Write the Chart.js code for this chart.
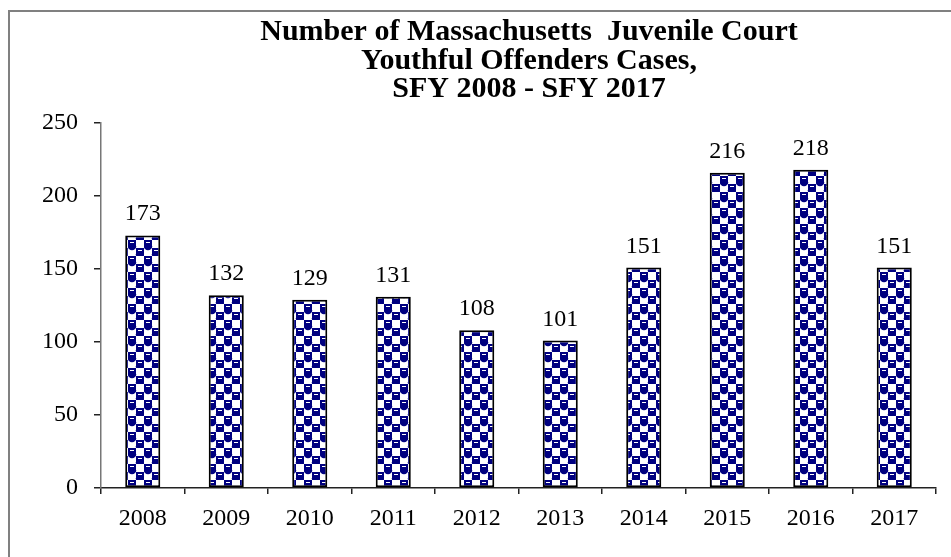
<!DOCTYPE html>
<html>
<head>
<meta charset="utf-8">
<script src="https://cdn.jsdelivr.net/npm/chart.js@4.4.1/dist/chart.umd.min.js"></script>
<style>
  html, body { margin: 0; padding: 0; background: #fff; overflow: hidden; }
  #wrap { position: relative; width: 951px; height: 557px; }
  #frame { position: absolute; left: 8px; top: 10px; width: 960px; height: 600px; border: 2px solid #808080; box-sizing: border-box; }
  #myChart { position: absolute; left: 0; top: 0; }
</style>
</head>
<body>
<div id="wrap">
  <div id="frame"></div>
  <canvas id="myChart" width="951" height="557"></canvas>
</div>
<script>
const years = ['2008', '2009', '2010', '2011', '2012', '2013', '2014', '2015', '2016', '2017'];
const cases = [173, 132, 129, 131, 108, 101, 151, 216, 218, 151];
const yTicks = [0, 50, 100, 150, 200, 250];
const titleLines = ['Number of Massachusetts  Juvenile Court', 'Youthful Offenders Cases,', 'SFY 2008 - SFY 2017'];

const serif = "'Liberation Serif', 'Times New Roman', serif";

// navy/white checker fill like the original bars
function makePattern(ctx) {
    const c = document.createElement('canvas');
    c.width = 16;
    c.height = 16;
    const g = c.getContext('2d');
    g.fillStyle = '#fff';
    g.fillRect(0, 0, 16, 16);
    g.fillStyle = '#000080';
    [[0, 0], [8, 8]].forEach(([x, y]) => {
        g.fillRect(x, y, 8, 7);
        g.beginPath();
        g.arc(x + 4, y + 6, 4.3, 0, Math.PI);
        g.fill();
    });
    g.fillStyle = '#fff';
    g.fillRect(2, 2, 4, 1);
    g.fillRect(10, 10, 4, 1);
    return ctx.createPattern(c, 'repeat');
}

const valueLabels = {
    id: 'valueLabels',
    afterDatasetsDraw(chart) {
        const ctx = chart.ctx;
        ctx.save();
        ctx.font = '24px ' + serif;
        ctx.fillStyle = '#000';
        ctx.textAlign = 'center';
        ctx.textBaseline = 'alphabetic';
        chart.getDatasetMeta(0).data.forEach((bar, i) => {
            ctx.fillText(cases[i], bar.x, bar.y - 15);
        });
        ctx.restore();
    }
};

const titleText = {
    id: 'titleText',
    afterDraw(chart) {
        const ctx = chart.ctx;
        ctx.save();
        ctx.font = 'bold 30px ' + serif;
        ctx.fillStyle = '#000';
        ctx.textAlign = 'center';
        ctx.textBaseline = 'alphabetic';
        titleLines.forEach((t, i) => {
            ctx.fillText(t, 529, 40 + i * 28.5);
        });
        ctx.restore();
    }
};

const ctx = document.getElementById('myChart').getContext('2d');

new Chart(ctx, {
    type: 'bar',
    data: {
        labels: years,
        datasets: [{
            data: cases,
            backgroundColor: makePattern(ctx),
            borderColor: '#000',
            borderWidth: 2,
            borderSkipped: false,
            categoryPercentage: 1,
            barPercentage: 0.42
        }]
    },
    options: {
        responsive: false,
        animation: false,
        layout: {
            padding: { top: 123, right: 15, bottom: 0, left: 0 }
        },
        plugins: {
            legend: { display: false },
            title: { display: false },
            tooltip: { enabled: false }
        },
        scales: {
            x: {
                offset: true,
                grid: { offset: true, drawOnChartArea: false, tickLength: 6, tickColor: '#222', lineWidth: 1.5 },
                border: { display: true, color: '#222', width: 1.5 },
                ticks: { color: '#000', padding: 10, font: { family: serif, size: 24 } },
                afterFit(scale) { scale.height = 69; }
            },
            y: {
                min: 0,
                max: 250,
                afterBuildTicks(scale) { scale.ticks = yTicks.map(v => ({ value: v })); },
                grid: { drawOnChartArea: false, tickLength: 7, tickColor: '#222', lineWidth: 1.5 },
                border: { display: true, color: '#777', width: 1.5 },
                ticks: { color: '#000', padding: 16, font: { family: serif, size: 24 } },
                afterFit(scale) { scale.width = 101; }
            }
        }
    },
    plugins: [valueLabels, titleText]
});
</script>
</body>
</html>
